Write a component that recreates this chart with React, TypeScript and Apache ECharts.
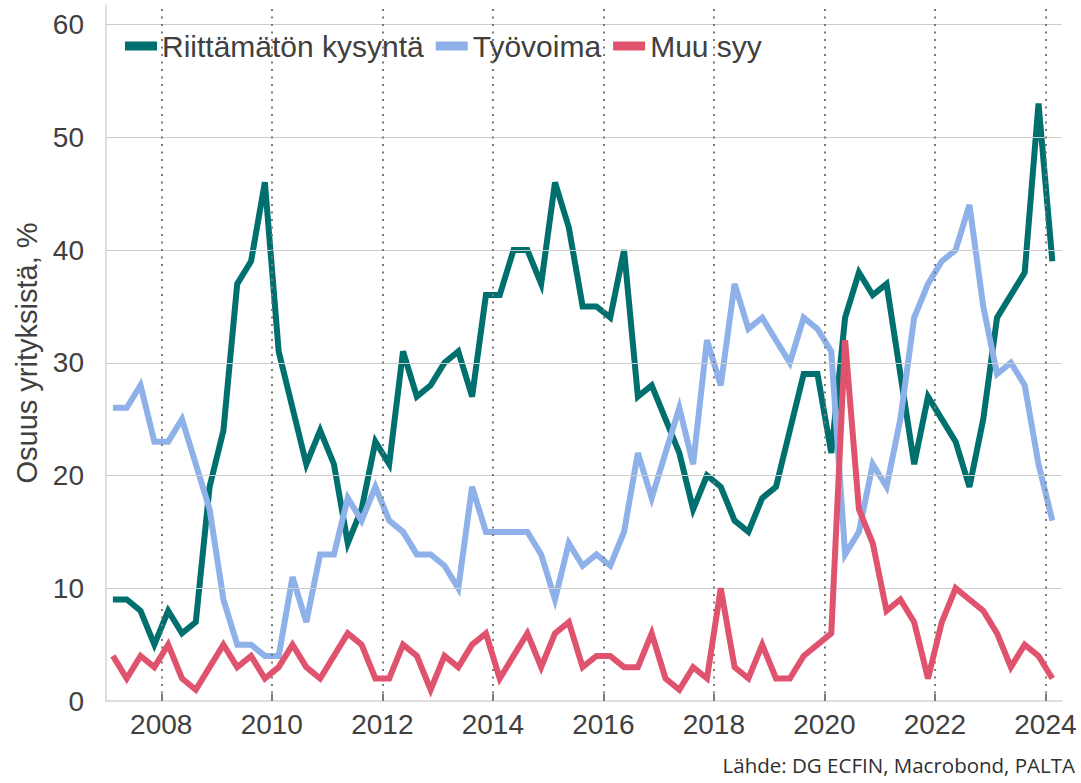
import { useEffect, useRef } from "react";
import * as echarts from "echarts";

// Quarterly observations, 2007 Q1 … 2024 Q1 (69 quarters)
const START_YEAR = 2007;
const seriesNames = ["Riittämätön kysyntä", "Työvoima", "Muu syy"];
const demand = [
  9, 9, 8, 5, 8, 6, 7, 19, 24, 37, 39, 46, 31, 26, 21, 24, 21, 14, 17, 23,
  21, 31, 27, 28, 30, 31, 27, 36, 36, 40, 40, 37, 46, 42, 35, 35, 34, 40, 27, 28,
  25, 22, 17, 20, 19, 16, 15, 18, 19, 24, 29, 29, 22, 34, 38, 36, 37, 29, 21, 27,
  25, 23, 19, 25, 34, 36, 38, 53, 39,
];
const labour = [
  26, 26, 28, 23, 23, 25, 21, 17, 9, 5, 5, 4, 4, 11, 7, 13, 13, 18, 16, 19,
  16, 15, 13, 13, 12, 10, 19, 15, 15, 15, 15, 13, 9, 14, 12, 13, 12, 15, 22, 18,
  22, 26, 21, 32, 28, 37, 33, 34, 32, 30, 34, 33, 31, 13, 15, 21, 19, 25, 34, 37,
  39, 40, 44, 35, 29, 30, 28, 21, 16,
];
const other = [
  4, 2, 4, 3, 5, 2, 1, 3, 5, 3, 4, 2, 3, 5, 3, 2, 4, 6, 5, 2,
  2, 5, 4, 1, 4, 3, 5, 6, 2, 4, 6, 3, 6, 7, 3, 4, 4, 3, 3, 6,
  2, 1, 3, 2, 10, 3, 2, 5, 2, 2, 4, 5, 6, 32, 17, 14, 8, 9, 7, 2,
  7, 10, 9, 8, 6, 3, 5, 4, 2,
];
const yearTicks = [2008, 2010, 2012, 2014, 2016, 2018, 2020, 2022, 2024];
const valueTicks = [0, 10, 20, 30, 40, 50, 60];
const gridValues = [10, 20, 30, 40, 50, 60];
const colors = ["#00706F", "#8EB1E9", "#E0536F"];
const yTitle = "Osuus yrityksistä, %";
const sourceText = "Lähde: DG ECFIN, Macrobond, PALTA";

// mid-quarter position of the i-th observation
const quarterPos = (i: number) =>
  START_YEAR + Math.floor(i / 4) + (i % 4) * 0.25 + 0.125;
const toPairs = (vals: number[]) => vals.map((v, i) => [quarterPos(i), v]);

export default function App() {
  const ref = useRef<HTMLDivElement>(null);

  useEffect(() => {
    if (!ref.current) return;
    const chart = echarts.init(ref.current, null, { renderer: "svg" });
    const textColor = "#404040";
    const font = "Liberation Sans, Arial, sans-serif";

    chart.setOption({
      animation: false,
      backgroundColor: "#ffffff",
      grid: { left: 106, right: 19, top: 5, bottom: 82, containLabel: false },
      legend: {
        data: seriesNames,
        left: 120,
        top: 26,
        icon: "rect",
        itemWidth: 32,
        itemHeight: 9,
        itemGap: 12,
        textStyle: { color: textColor, fontSize: 30, fontFamily: font },
      },
      xAxis: {
        type: "value",
        min: 2007,
        max: 2024.3,
        axisLine: { show: true, lineStyle: { color: "#d4d4d4", width: 1.5 } },
        axisTick: {
          show: true,
          inside: true,
          length: 7,
          customValues: yearTicks,
          lineStyle: { color: "#505050", width: 1.5 },
        },
        axisLabel: {
          customValues: yearTicks,
          color: textColor,
          fontSize: 28,
          fontFamily: font,
          margin: 9,
          formatter: (v: number) => String(Math.round(v)),
        },
        splitLine: { show: false },
      },
      yAxis: {
        type: "value",
        min: 0,
        max: 61.73,
        name: yTitle,
        nameLocation: "middle",
        nameGap: 61,
        nameTextStyle: { color: textColor, fontSize: 29, fontFamily: font },
        axisLine: { show: true, lineStyle: { color: "#d4d4d4", width: 1.5 } },
        axisTick: { show: false },
        axisLabel: {
          customValues: valueTicks,
          color: textColor,
          fontSize: 28,
          fontFamily: font,
          margin: 22,
        },
        splitLine: { show: false },
      },
      graphic: [
        {
          type: "text",
          right: 6,
          top: 754,
          style: {
            text: sourceText,
            fill: "#303030",
            font: '20.5px "Open Sans", "Noto Sans", sans-serif',
          },
        },
      ],
      series: [
        {
          name: "gridlines",
          type: "line",
          data: [],
          z: 0,
          silent: true,
          markLine: {
            symbol: "none",
            silent: true,
            label: { show: false },
            emphasis: { disabled: true },
            data: [
              ...gridValues.map((v) => ({
                yAxis: v,
                lineStyle: { color: "#cccccc", width: 1.2, type: "solid" },
              })),
              ...yearTicks.map((v) => ({
                xAxis: v,
                lineStyle: { color: "#7a7a7a", width: 2, type: [2, 5.5] },
              })),
            ],
          },
        },
        ...[demand, labour, other].map((vals, k) => ({
          name: seriesNames[k],
          type: "line",
          data: toPairs(vals),
          showSymbol: false,
          symbol: "none",
          z: 3 + k,
          color: colors[k],
          lineStyle: { color: colors[k], width: 6, join: "miter" },
          emphasis: { disabled: true },
        })),
      ],
    });

    return () => chart.dispose();
  }, []);

  return (
    <div
      ref={ref}
      style={{ position: "fixed", left: 0, top: 0, width: 1081, height: 783 }}
    />
  );
}
